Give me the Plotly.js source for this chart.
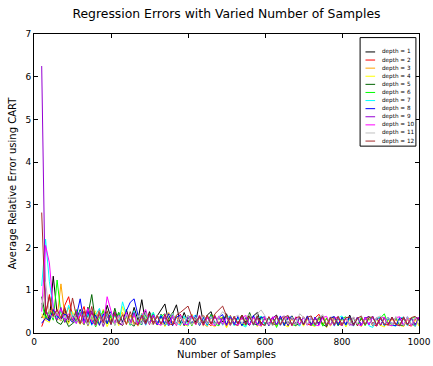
<!DOCTYPE html>
<html>
<head>
<meta charset="utf-8">
<script src="https://cdn.plot.ly/plotly-3.0.1.min.js"></script>
<style>html,body{margin:0;padding:0;background:#fff;}#chart{width:433px;height:366px;}</style>
</head>
<body>
<div id="chart"></div>
<script>
var samples = [20,30,40,50,60,70,80,90,100,110,120,130,140,150,160,170,180,190,200,210,220,230,240,250,260,270,280,290,300,310,320,330,340,350,360,370,380,390,400,410,420,430,440,450,460,470,480,490,500,510,520,530,540,550,560,570,580,590,600,610,620,630,640,650,660,670,680,690,700,710,720,730,740,750,760,770,780,790,800,810,820,830,840,850,860,870,880,890,900,910,920,930,940,950,960,970,980,990,1000];

var seriesNames = ["depth = 1","depth = 2","depth = 3","depth = 4","depth = 5","depth = 6","depth = 7","depth = 8","depth = 9","depth = 10","depth = 11","depth = 12"];
var seriesColors = ["#000000","#ff0000","#ffa500","#ffff00","#006400","#00ff00","#00ffff","#0000ff","#9400d3","#ff00ff","#c0c0c0","#a52a2a"];

var depth1 = [0.35,0.55,0.30,1.33,0.45,0.30,0.55,0.25,0.40,0.30, 0.55,0.22,0.60,0.30,0.20,0.50,0.25,0.65,0.35,0.22, 0.48,0.25,0.55,0.22,0.60,0.30,0.78,0.22,0.50,0.24, 0.40,0.55,0.68,0.25,0.45,0.66,0.22,0.48,0.25,0.40, 0.25,0.73,0.22,0.42,0.50,0.20,0.38,0.26,0.45,0.20, 0.38,0.22,0.42,0.25,0.18,0.40,0.48,0.22,0.35,0.18, 0.35,0.42,0.20,0.37,0.22,0.40,0.18,0.36,0.21,0.38, 0.20,0.36,0.22,0.40,0.18,0.34,0.38,0.21,0.36,0.19, 0.42,0.20,0.36,0.18,0.33,0.39,0.20,0.35,0.17,0.36, 0.21,0.37,0.18,0.33,0.36,0.19,0.35,0.20,0.32];
var depth2 = [0.15,0.40,0.90,0.35,0.50,0.30,0.65,0.85,0.40,0.25, 0.40,0.62,0.22,0.48,0.25,0.55,0.18,0.45,0.24,0.50, 0.24,0.18,0.42,0.22,0.48,0.25,0.40,0.20,0.46,0.25, 0.22,0.42,0.18,0.38,0.25,0.20,0.44,0.23,0.40,0.18, 0.36,0.21,0.42,0.24,0.17,0.39,0.22,0.36,0.19,0.41, 0.21,0.38,0.18,0.35,0.40,0.19,0.37,0.22,0.17,0.38, 0.22,0.18,0.36,0.21,0.39,0.17,0.35,0.20,0.38,0.21, 0.18,0.35,0.44,0.19,0.34,0.17,0.37,0.21,0.18,0.35, 0.20,0.37,0.17,0.34,0.19,0.36,0.21,0.16,0.34,0.20, 0.35,0.18,0.33,0.17,0.34,0.20,0.16,0.33,0.19];
var depth3 = [0.40,0.30,0.55,0.45,0.35,1.15,0.40,0.60,0.25,0.50, 0.28,0.20,0.50,0.24,0.46,0.18,0.55,0.22,0.42,0.20, 0.38,0.48,0.20,0.42,0.18,0.25,0.46,0.20,0.40,0.22, 0.42,0.19,0.24,0.48,0.20,0.40,0.17,0.36,0.21,0.44, 0.19,0.38,0.22,0.15,0.36,0.42,0.18,0.34,0.14,0.37, 0.20,0.17,0.37,0.19,0.40,0.18,0.34,0.15,0.36,0.19, 0.37,0.17,0.33,0.38,0.18,0.35,0.16,0.36,0.19,0.37, 0.17,0.35,0.19,0.37,0.13,0.33,0.36,0.18,0.35,0.17, 0.34,0.18,0.36,0.15,0.32,0.37,0.17,0.34,0.18,0.35, 0.17,0.34,0.18,0.36,0.16,0.32,0.35,0.15,0.33];
var depth4 = [0.45,0.30,0.25,0.60,0.35,0.28,0.40,0.22,0.50,0.30, 0.20,0.45,0.16,0.36,0.52,0.19,0.40,0.15,0.34,0.42, 0.17,0.62,0.36,0.19,0.42,0.16,0.34,0.48,0.19,0.37, 0.18,0.39,0.15,0.34,0.42,0.17,0.37,0.20,0.16,0.38, 0.19,0.36,0.16,0.40,0.20,0.14,0.35,0.37,0.12,0.33, 0.18,0.37,0.16,0.33,0.19,0.36,0.15,0.32,0.37,0.17, 0.33,0.16,0.36,0.19,0.14,0.35,0.18,0.37,0.16,0.32, 0.19,0.15,0.33,0.18,0.36,0.16,0.32,0.17,0.35,0.14, 0.32,0.17,0.35,0.15,0.31,0.34,0.16,0.32,0.18,0.14, 0.31,0.16,0.34,0.18,0.15,0.32,0.17,0.31,0.16];
var depth5 = [0.85,0.40,0.30,0.55,0.25,0.20,0.35,0.15,0.22,0.30, 0.50,0.20,0.42,0.90,0.24,0.48,0.18,0.42,0.22,0.58, 0.24,0.18,0.45,0.22,0.16,0.42,0.24,0.52,0.20,0.40, 0.21,0.44,0.18,0.36,0.48,0.20,0.39,0.17,0.42,0.21, 0.37,0.18,0.40,0.21,0.44,0.19,0.38,0.20,0.41,0.18, 0.36,0.20,0.42,0.21,0.48,0.22,0.19,0.39,0.20,0.37, 0.18,0.38,0.20,0.36,0.17,0.40,0.21,0.18,0.37,0.19, 0.36,0.17,0.38,0.20,0.15,0.37,0.19,0.35,0.17,0.37, 0.20,0.37,0.18,0.35,0.19,0.38,0.17,0.34,0.36,0.18, 0.35,0.18,0.37,0.19,0.17,0.36,0.20,0.18,0.37];
var depth6 = [0.70,0.35,0.50,0.30,1.24,0.45,0.25,0.40,0.30,0.55, 0.22,0.48,0.18,0.42,0.14,0.36,0.52,0.21,0.42,0.18, 0.48,0.21,0.40,0.18,0.45,0.23,0.20,0.42,0.22,0.48, 0.19,0.39,0.45,0.18,0.37,0.21,0.42,0.20,0.38,0.17, 0.40,0.20,0.37,0.18,0.42,0.21,0.17,0.38,0.20,0.40, 0.19,0.37,0.21,0.18,0.38,0.20,0.40,0.17,0.36,0.19, 0.37,0.13,0.35,0.18,0.38,0.20,0.17,0.36,0.19,0.37, 0.20,0.18,0.37,0.16,0.35,0.19,0.36,0.17,0.34,0.38, 0.18,0.35,0.19,0.37,0.17,0.34,0.36,0.18,0.35,0.45, 0.20,0.17,0.36,0.19,0.35,0.18,0.34,0.37,0.35];
var depth7 = [1.10,2.20,1.20,0.60,0.35,0.55,0.30,0.65,0.40,0.22, 0.52,0.22,0.45,0.18,0.42,0.58,0.22,0.48,0.20,0.42, 0.22,0.73,0.42,0.20,0.52,0.22,0.45,0.18,0.40,0.48, 0.20,0.42,0.22,0.18,0.45,0.23,0.19,0.40,0.17,0.37, 0.42,0.19,0.37,0.17,0.40,0.20,0.38,0.18,0.36,0.39, 0.17,0.36,0.19,0.14,0.37,0.18,0.35,0.39,0.17,0.36, 0.19,0.37,0.17,0.35,0.39,0.18,0.36,0.16,0.37,0.19, 0.36,0.17,0.35,0.38,0.18,0.37,0.16,0.35,0.40,0.18, 0.35,0.16,0.37,0.18,0.36,0.17,0.13,0.34,0.37,0.17, 0.36,0.18,0.16,0.35,0.37,0.17,0.34,0.15,0.35];
var depth8 = [0.23,0.35,0.28,0.55,0.40,0.30,0.45,0.35,0.25,0.40, 0.80,0.24,0.52,0.20,0.42,0.18,0.45,0.22,0.50,0.20, 0.42,0.22,0.52,0.72,0.80,0.42,0.20,0.48,0.22,0.43, 0.19,0.40,0.20,0.45,0.17,0.37,0.42,0.19,0.39,0.21, 0.41,0.18,0.37,0.20,0.40,0.17,0.37,0.43,0.19,0.38, 0.20,0.39,0.17,0.37,0.19,0.41,0.18,0.36,0.38,0.17, 0.37,0.19,0.40,0.17,0.36,0.38,0.18,0.37,0.20,0.40, 0.18,0.37,0.19,0.39,0.17,0.36,0.38,0.18,0.37,0.19, 0.38,0.18,0.36,0.17,0.37,0.19,0.39,0.17,0.36,0.18, 0.37,0.19,0.17,0.36,0.18,0.38,0.19,0.36,0.33];
var depth9 = [6.25,0.55,0.35,0.45,0.30,0.60,0.25,0.40,0.30,0.50, 0.21,0.42,0.18,0.52,0.22,0.45,0.15,0.40,0.20,0.48, 0.22,0.19,0.42,0.21,0.48,0.18,0.39,0.20,0.43,0.22, 0.40,0.20,0.37,0.17,0.42,0.21,0.38,0.19,0.36,0.41, 0.20,0.38,0.18,0.37,0.21,0.40,0.19,0.36,0.17,0.38, 0.21,0.18,0.37,0.20,0.39,0.19,0.36,0.18,0.37,0.20, 0.38,0.19,0.35,0.40,0.18,0.36,0.20,0.37,0.19,0.35, 0.18,0.36,0.20,0.38,0.19,0.35,0.17,0.37,0.20,0.36, 0.20,0.18,0.37,0.19,0.35,0.38,0.18,0.36,0.19,0.35, 0.19,0.36,0.20,0.17,0.37,0.19,0.35,0.18,0.37];
var depth10 = [0.50,2.05,1.64,0.60,0.40,0.55,0.30,0.45,0.35,0.22, 0.48,0.22,0.58,0.26,0.18,0.48,0.22,0.85,0.52,0.22, 0.42,0.20,0.48,0.22,0.43,0.19,0.40,0.55,0.20,0.42, 0.22,0.18,0.45,0.20,0.39,0.17,0.42,0.21,0.19,0.40, 0.20,0.42,0.18,0.38,0.21,0.17,0.40,0.20,0.37,0.18, 0.38,0.19,0.36,0.41,0.18,0.37,0.20,0.17,0.38,0.19, 0.36,0.39,0.18,0.35,0.37,0.17,0.38,0.19,0.36,0.18, 0.37,0.19,0.17,0.36,0.39,0.18,0.35,0.37,0.17,0.35, 0.18,0.37,0.20,0.17,0.36,0.19,0.38,0.18,0.35,0.37, 0.19,0.17,0.36,0.38,0.18,0.35,0.17,0.34,0.36];
var depth11 = [0.60,1.20,0.45,0.35,0.50,0.30,0.40,0.28,0.45,0.33, 0.22,0.48,0.20,0.42,0.22,0.50,0.20,0.40,0.46,0.18, 0.40,0.20,0.44,0.22,0.19,0.42,0.21,0.48,0.23,0.20, 0.42,0.22,0.19,0.40,0.46,0.20,0.39,0.22,0.42,0.19, 0.38,0.20,0.41,0.21,0.39,0.19,0.37,0.50,0.40,0.20, 0.37,0.42,0.21,0.39,0.43,0.22,0.45,0.54,0.40,0.21, 0.19,0.37,0.20,0.40,0.21,0.38,0.19,0.45,0.37,0.20, 0.39,0.20,0.37,0.43,0.19,0.38,0.21,0.40,0.20,0.37, 0.20,0.38,0.21,0.41,0.20,0.37,0.18,0.36,0.40,0.20, 0.37,0.19,0.39,0.21,0.18,0.38,0.20,0.37,0.19];
var depth12 = [2.82,0.45,0.85,0.40,0.55,0.35,0.60,0.30,0.82,0.40, 0.22,0.52,0.25,0.62,0.20,0.48,0.24,0.52,0.20,0.45, 0.22,0.43,0.20,0.50,0.24,0.19,0.42,0.22,0.46,0.20, 0.41,0.21,0.43,0.22,0.19,0.42,0.48,0.55,0.63,0.38, 0.22,0.40,0.19,0.42,0.21,0.45,0.55,0.63,0.40,0.20, 0.39,0.21,0.42,0.19,0.38,0.20,0.40,0.22,0.18,0.38, 0.20,0.39,0.19,0.37,0.41,0.18,0.36,0.38,0.19,0.37, 0.40,0.19,0.36,0.38,0.18,0.37,0.20,0.39,0.19,0.36, 0.37,0.18,0.35,0.39,0.19,0.36,0.38,0.18,0.37,0.20, 0.19,0.37,0.20,0.17,0.38,0.19,0.36,0.39,0.30];

var xTicks = [0,200,400,600,800,1000];
var yTicks = [0,1,2,3,4,5,6,7];

var allSeries = [depth1,depth2,depth3,depth4,depth5,depth6,depth7,depth8,depth9,depth10,depth11,depth12];

var traces = allSeries.map(function(vals, i){
  return {x: samples, y: vals, type: 'scatter', mode: 'lines', name: seriesNames[i],
          line: {color: seriesColors[i], width: 1}, showlegend: false};
});

// Custom compact legend (matplotlib style)
var shapes = [];
var annotations = [];
var legX0 = 0.847, legX1 = 0.992, legY1 = 0.988, legY0 = 0.625;
shapes.push({type:'rect', xref:'paper', yref:'paper', x0:legX0, x1:legX1, y0:legY0, y1:legY1,
             line:{color:'#000', width:1}, fillcolor:'#fff', layer:'above'});
var rowTop = 0.940, rowStep = 0.0271;
seriesNames.forEach(function(n, i){
  var yy = rowTop - i*rowStep;
  shapes.push({type:'line', xref:'paper', yref:'paper', x0:0.861, x1:0.886, y0:yy, y1:yy,
               line:{color:seriesColors[i], width:1}, layer:'above'});
  annotations.push({xref:'paper', yref:'paper', x:0.898, y:yy, xanchor:'left', yanchor:'middle',
                    text:n, showarrow:false, font:{family:'DejaVu Sans', size:5.7, color:'#000'}});
});

var axisCommon = {showline:true, linecolor:'#000', linewidth:1, mirror:'ticks', ticks:'inside',
  ticklen:4, tickcolor:'#000', showgrid:false, zeroline:false,
  tickfont:{family:'DejaVu Sans', size:9, color:'#000'}};

var layout = {
  width:433, height:366,
  margin:{l:34, r:14, t:34, b:33},
  paper_bgcolor:'#fff', plot_bgcolor:'#fff',
  font:{family:'DejaVu Sans', color:'#000'},
  title:{text:'Regression Errors with Varied Number of Samples', font:{family:'DejaVu Sans', size:12.4, color:'#000'},
         x:0.523, xanchor:'center', y:0.962, yanchor:'middle', yref:'container'},
  xaxis: Object.assign({}, axisCommon, {range:[0,1000], tickvals:xTicks, ticktext:xTicks.map(String),
         title:{text:'Number of Samples', font:{family:'DejaVu Sans', size:10, color:'#000'}, standoff:5}}),
  yaxis: Object.assign({}, axisCommon, {range:[0,7], tickvals:yTicks, ticktext:yTicks.map(String),
         title:{text:'Average Relative Error using CART', font:{family:'DejaVu Sans', size:10, color:'#000'}, standoff:6}}),
  shapes: shapes,
  annotations: annotations,
  showlegend:false
};

Plotly.newPlot('chart', traces, layout, {displayModeBar:false, staticPlot:true});
</script>
</body>
</html>
